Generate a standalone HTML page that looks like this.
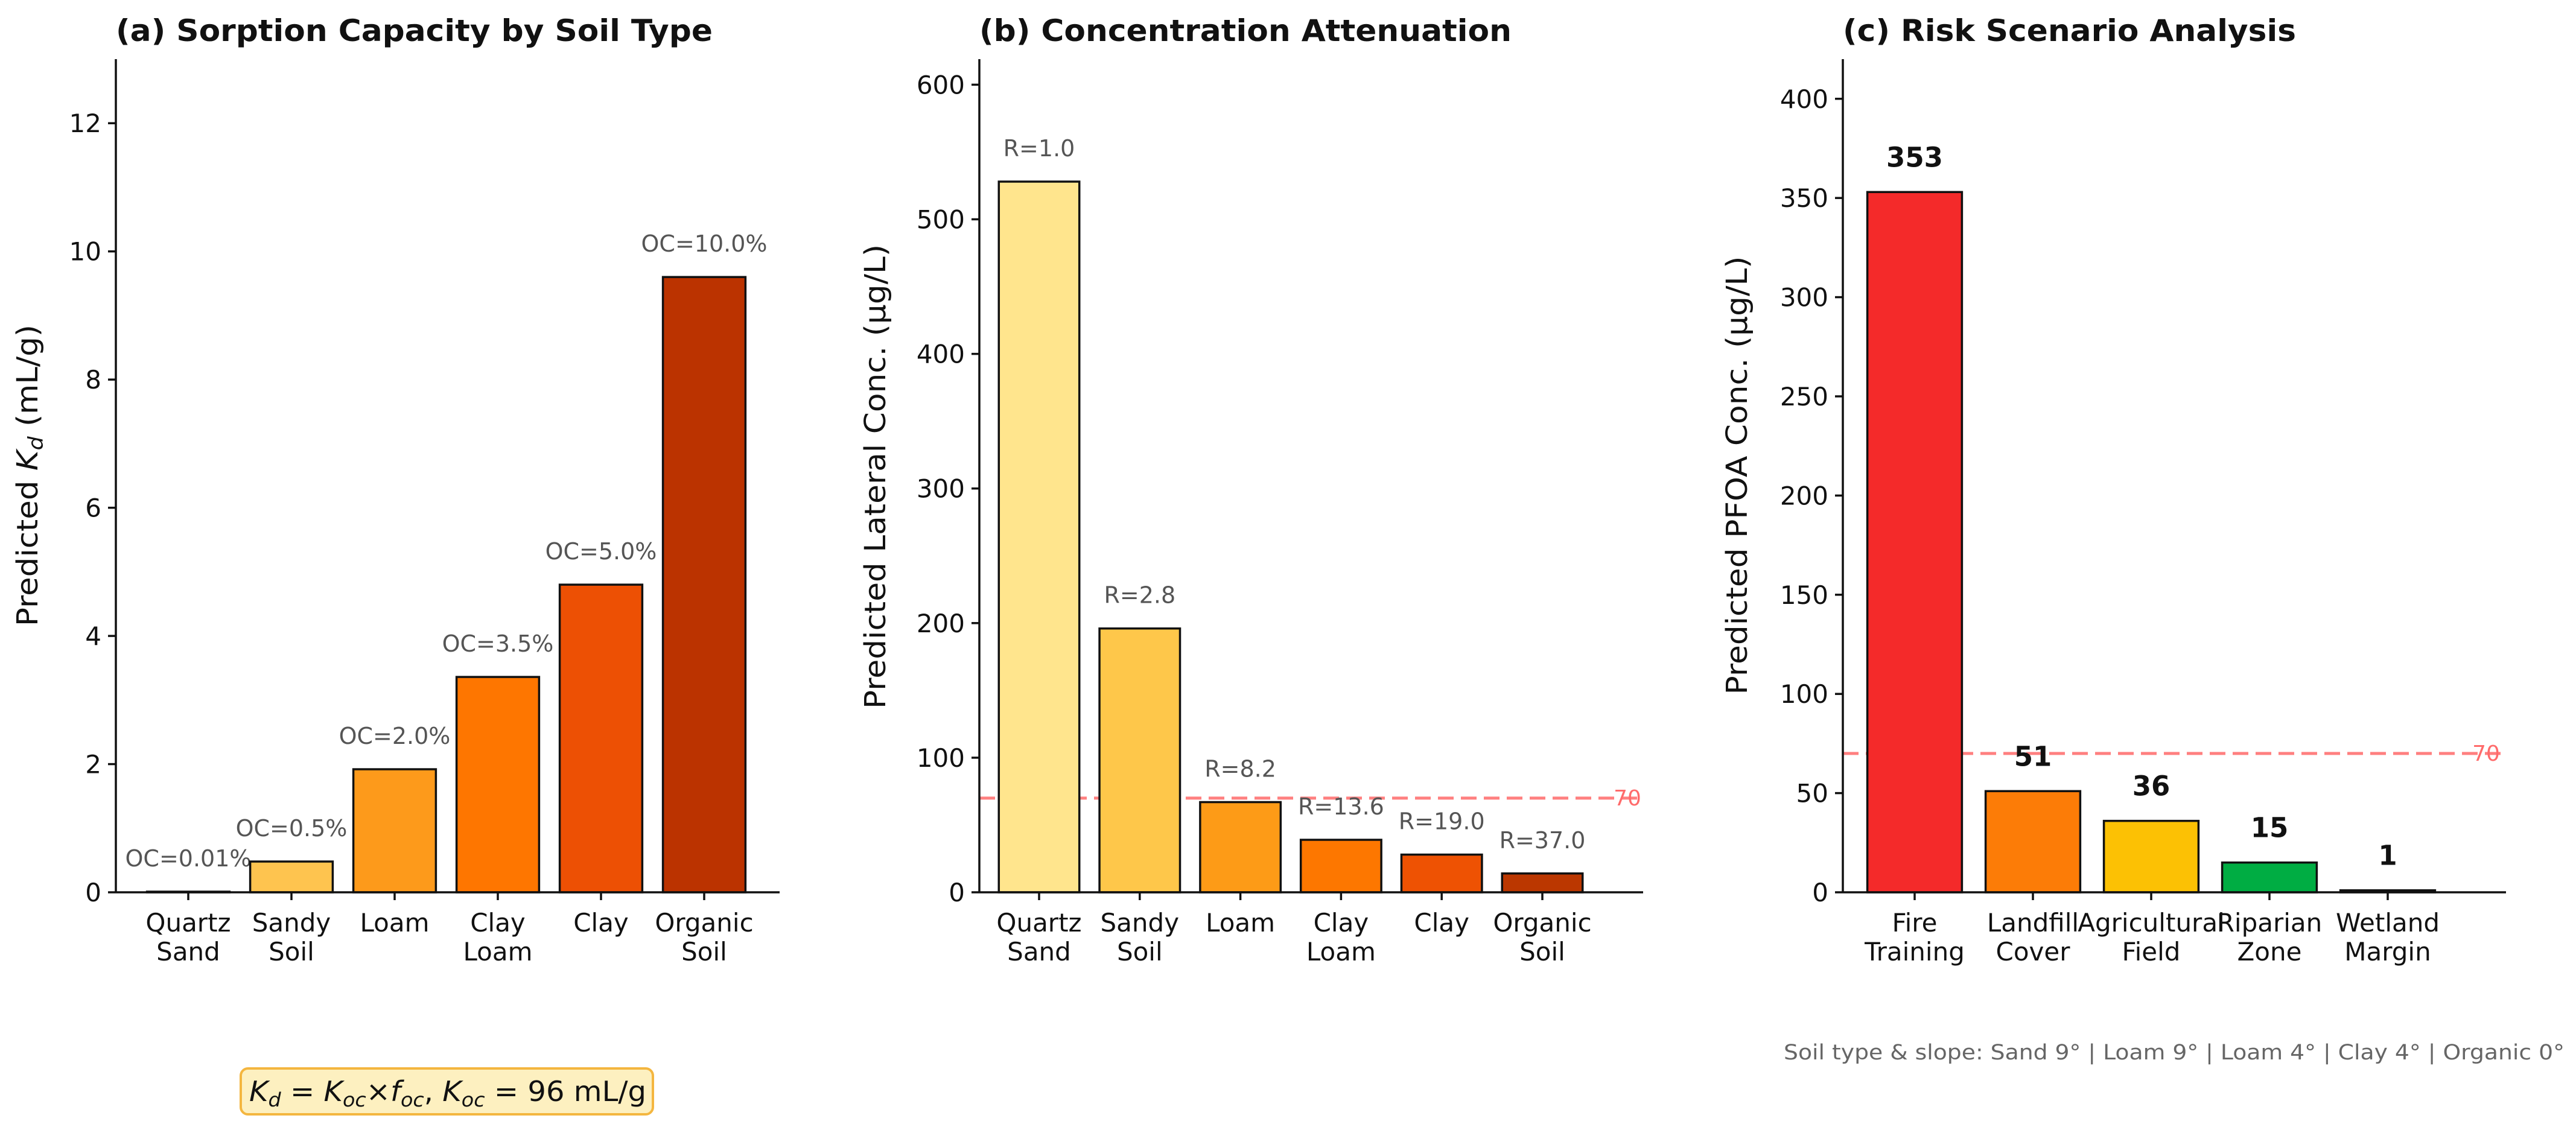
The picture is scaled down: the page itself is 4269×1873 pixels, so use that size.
<!DOCTYPE html>
<html><head><meta charset="utf-8"><style>
html,body{margin:0;padding:0;background:#fff}
svg{display:block}
text{font-family:"DejaVu Sans","Liberation Sans",sans-serif}
</style></head><body>
<svg id="fig" width="4269" height="1873" viewBox="0 0 4269 1873" xmlns="http://www.w3.org/2000/svg">
<rect width="4269" height="1873" fill="#fff"/>
<g id="pa"></g>
<g id="pb"></g>
<g id="pc"></g>
<g>
<rect x="399" y="1771" width="683" height="76" rx="12" fill="#fdf0c0" stroke="#f4b63f" stroke-width="4"/>
<text x="413" y="1825" font-size="46" fill="#111" textLength="658" lengthAdjust="spacingAndGlyphs"><tspan font-style="italic">K</tspan><tspan font-style="italic" font-size="32" dy="9">d</tspan><tspan dy="-9"> = </tspan><tspan font-style="italic">K</tspan><tspan font-style="italic" font-size="32" dy="9">oc</tspan><tspan dy="-9">×</tspan><tspan font-style="italic">f</tspan><tspan font-style="italic" font-size="32" dy="9">oc</tspan><tspan dy="-9">,  </tspan><tspan font-style="italic">K</tspan><tspan font-style="italic" font-size="32" dy="9">oc</tspan><tspan dy="-9"> = 96 mL/g</tspan></text>
</g>
<text x="2956" y="1756" font-size="35" fill="#666" textLength="1294" lengthAdjust="spacingAndGlyphs">Soil type &amp; slope: Sand 9° | Loam 9° | Loam 4° | Clay 4° | Organic 0°</text>
</svg>
<script>
// Panel A data
const catsA = [["Quartz","Sand"],["Sandy","Soil"],["Loam"],["Clay","Loam"],["Clay"],["Organic","Soil"]];
const valsA = [0.0096, 0.48, 1.92, 3.36, 4.8, 9.6];
const annA = ["OC=0.01%","OC=0.5%","OC=2.0%","OC=3.5%","OC=5.0%","OC=10.0%"];
const ticksA = [0,2,4,6,8,10,12];
const colorsA = ["#ffeda0","#fec44f","#fd9a1b","#fe7600","#ed5004","#bb3300"];
// Panel B data
const catsB = catsA;
const valsB = [528, 196, 67, 39, 28, 14];
const annB = ["R=1.0","R=2.8","R=8.2","R=13.6","R=19.0","R=37.0"];
const ticksB = [0,100,200,300,400,500,600];
const colorsB = ["#ffe58d","#fec74a","#fd9b17","#fd7700","#ee5203","#bb3700"];
// Panel C data
const catsC = [["Fire","Training"],["Landfill","Cover"],["Agricultural","Field"],["Riparian","Zone"],["Wetland","Margin"]];
const valsC = [353, 51, 36, 15, 1];
const annC = ["353","51","36","15","1"];
const ticksC = [0,50,100,150,200,250,300,350,400];
const colorsC = ["#f42a2a","#fc7c07","#fcc104","#00ad43","#4a2a8a"];
const threshold = 70;

const NS="http://www.w3.org/2000/svg";
function mk(p,tag,at,txt){const e=document.createElementNS(NS,tag);for(const k in at)e.setAttribute(k,at[k]);if(txt!==undefined)e.textContent=txt;p.appendChild(e);return e;}

function panel(g,cfg){
  const y0=1479, yTop=98;
  const ys=v=>y0-(v/cfg.ymax)*(y0-yTop);
  const xs=i=>cfg.c0+i*cfg.sp;
  const bw=cfg.sp*0.8;
  const t=mk(g,'text',{x:cfg.ax,y:68,'font-size':50,'font-weight':'bold',fill:'#111',textLength:cfg.tlen,lengthAdjust:'spacingAndGlyphs'},cfg.title);
  
  
  if(cfg.thr){
    const l=mk(g,'line',{x1:cfg.ax,x2:cfg.right,y1:ys(threshold),y2:ys(threshold),stroke:'#ff6b6b','stroke-width':5,'stroke-dasharray':'26,12',opacity:0.85});
    
    
    const lt=mk(g,'text',{x:cfg.thrX,y:ys(threshold)+12,'font-size':36,fill:'#ff6b6b','text-anchor':'middle'},String(threshold));
    
    
  }
  cfg.vals.forEach((v,i)=>{
    const r=mk(g,'rect',{x:xs(i)-bw/2,y:ys(v),width:bw,height:y0-ys(v),fill:cfg.colors[i],stroke:'#111','stroke-width':3.5});
    
    
    const a=mk(g,'text',{x:xs(i),y:ys(v)-42,'font-size':cfg.annBold?45:38,'font-weight':cfg.annBold?'bold':'normal',fill:cfg.annBold?'#111':'#555','text-anchor':'middle'},cfg.ann[i]);
    
    
    mk(g,'line',{x1:xs(i),x2:xs(i),y1:y0,y2:y0+13,stroke:'#111','stroke-width':3.5});
    const xl=mk(g,'text',{x:xs(i),y:1544,'font-size':42,fill:'#111','text-anchor':'middle'});
    
    
    cfg.cats[i].forEach((s,k)=>mk(xl,'tspan',{x:xs(i),dy:k?48:0},s));
  });
  cfg.ticks.forEach(tv=>{
    mk(g,'line',{x1:cfg.ax-13,x2:cfg.ax,y1:ys(tv),y2:ys(tv),stroke:'#111','stroke-width':3.5});
    const tl=mk(g,'text',{x:cfg.ax-24,y:ys(tv)+15,'font-size':42,fill:'#111','text-anchor':'end'},String(tv));
    
    
  });
  mk(g,'line',{x1:cfg.ax,x2:cfg.ax,y1:yTop,y2:y0,stroke:'#111','stroke-width':3.5});
  mk(g,'line',{x1:cfg.ax,x2:cfg.right,y1:y0,y2:y0,stroke:'#111','stroke-width':3.5});
  const yl=mk(g,'text',{transform:`translate(${cfg.ylx},${cfg.ylc}) rotate(-90)`,'font-size':48,fill:'#111','text-anchor':'middle',textLength:cfg.yllen,lengthAdjust:'spacingAndGlyphs'});
  
  
  if(cfg.kd){
    mk(yl,'tspan',{},'Predicted ');
    mk(yl,'tspan',{'font-style':'italic'},'K');
    mk(yl,'tspan',{'font-style':'italic','font-size':34,dy:9},'d');
    mk(yl,'tspan',{dy:-9},' (mL/g)');
  } else yl.textContent=cfg.ylabel;
}

panel(document.getElementById('pa'),{title:'(a) Sorption Capacity by Soil Type',tlen:989,ax:192,right:1292,c0:312,sp:171,ymax:13,
  vals:valsA,cats:catsA,ann:annA,ticks:ticksA,colors:colorsA,ylx:62,ylc:788,yllen:500,kd:true});
panel(document.getElementById('pb'),{title:'(b) Concentration Attenuation',tlen:882,ax:1623,right:2723,c0:1722,sp:166.8,ymax:619,
  vals:valsB,cats:catsB,ann:annB,ticks:ticksB,colors:colorsB,ylx:1467,ylc:790,yllen:770,ylabel:'Predicted Lateral Conc. (µg/L)',thr:true,thrX:2697});
panel(document.getElementById('pc'),{title:'(c) Risk Scenario Analysis',tlen:751,ax:3054,right:4153,c0:3173,sp:196,ymax:420,
  vals:valsC,cats:catsC,ann:annC,ticks:ticksC,colors:colorsC,ylx:2895,ylc:788,yllen:727,ylabel:'Predicted PFOA Conc. (µg/L)',thr:true,thrX:4120,annBold:true});
</script>
</body></html>
